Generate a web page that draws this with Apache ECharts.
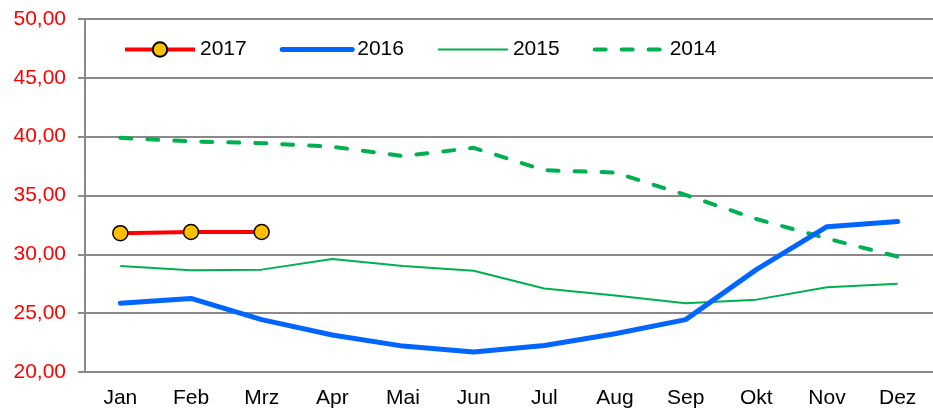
<!DOCTYPE html>
<html>
<head>
<meta charset="utf-8">
<script src="https://cdn.jsdelivr.net/npm/echarts@6/dist/echarts.min.js"></script>
<style>
    html, body { margin: 0; padding: 0; background: #fff; }
    #chart { width: 933px; height: 409px; }
</style>
</head>
<body>
<div id="chart"></div>
<script>
    var months = ['Jan', 'Feb', 'Mrz', 'Apr', 'Mai', 'Jun', 'Jul', 'Aug', 'Sep', 'Okt', 'Nov', 'Dez'];
    var y2017 = [31.8, 31.9, 31.9];
    var y2016 = [25.85, 26.25, 24.45, 23.15, 22.2, 21.7, 22.25, 23.25, 24.45, 28.7, 32.35, 32.8];
    var y2015 = [29.0, 28.65, 28.7, 29.6, 29.0, 28.6, 27.1, 26.5, 25.85, 26.15, 27.2, 27.5];
    var y2014 = [39.9, 39.6, 39.45, 39.15, 38.35, 39.05, 37.15, 36.95, 35.05, 33.0, 31.35, 29.8];

    var chart = echarts.init(document.getElementById('chart'));
    var gridColor = '#898989';
    var noMarker = { color: 'transparent', borderWidth: 0, opacity: 0 };

    var option = {
        animation: false,
        grid: { left: 85, top: 19, width: 856, height: 354 },
        legend: {
            left: 123,
            top: 39,
            padding: 0,
            itemWidth: 70,
            itemHeight: 18,
            itemGap: 33,
            textStyle: { fontFamily: 'Liberation Sans', fontSize: 21, color: '#000' },
            data: [
                { name: '2017', lineStyle: { width: 4 } },
                { name: '2016', lineStyle: { width: 5 }, itemStyle: noMarker },
                { name: '2015', lineStyle: { width: 2 }, itemStyle: noMarker },
                { name: '2014', lineStyle: { width: 4 }, itemStyle: noMarker }
            ]
        },
        xAxis: {
            type: 'category',
            data: months,
            axisLine: { lineStyle: { color: gridColor, width: 2 } },
            axisTick: { show: false },
            axisLabel: { fontFamily: 'Liberation Sans', fontSize: 21, color: '#000', margin: 16 }
        },
        yAxis: {
            type: 'value',
            min: 20,
            max: 50,
            interval: 5,
            axisLine: { show: true, lineStyle: { color: gridColor, width: 2 } },
            axisTick: { show: true, length: 7, lineStyle: { color: gridColor, width: 2 } },
            splitLine: { lineStyle: { color: gridColor, width: 2 } },
            axisLabel: {
                fontFamily: 'Liberation Sans', fontSize: 21, color: '#ff0000', margin: 19,
                formatter: function (v) { return v.toFixed(2).replace('.', ','); }
            }
        },
        series: [
            {
                name: '2014', type: 'line', data: y2014, symbol: 'none',
                lineStyle: { color: '#00b050', width: 4, type: [11, 16], cap: 'round' },
                itemStyle: { color: '#00b050' }
            },
            {
                name: '2015', type: 'line', data: y2015, symbol: 'none',
                lineStyle: { color: '#00b050', width: 2 },
                itemStyle: { color: '#00b050' }
            },
            {
                name: '2016', type: 'line', data: y2016, symbol: 'none',
                lineStyle: { color: '#0066ff', width: 5, cap: 'round' },
                itemStyle: { color: '#0066ff' }
            },
            {
                name: '2017', type: 'line', data: y2017, symbol: 'circle', symbolSize: 15,
                lineStyle: { color: '#ff0000', width: 4 },
                itemStyle: { color: '#ffc000', borderColor: '#000', borderWidth: 1.5 }
            }
        ]
    };
    chart.setOption(option);
</script>
</body>
</html>
